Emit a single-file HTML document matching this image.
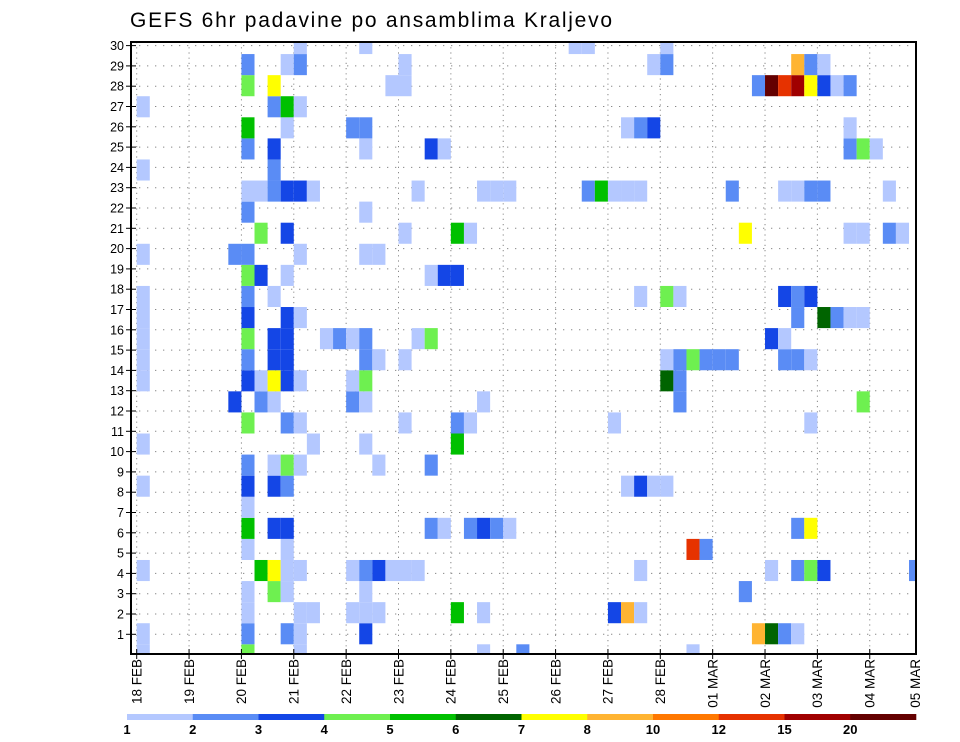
<!DOCTYPE html>
<html><head><meta charset="utf-8"><title>GEFS 6hr padavine po ansamblima Kraljevo</title>
<style>
html,body{margin:0;padding:0;background:#fff;}
svg{display:block;font-family:"Liberation Sans",sans-serif;}
</style></head>
<body>
<svg id="chart" width="960" height="742" viewBox="0 0 960 742" xmlns="http://www.w3.org/2000/svg">
<text x="130" y="27" font-size="21" textLength="482" fill="#000">GEFS 6hr padavine po ansamblima Kraljevo</text>
<g id="grid"></g>
<g id="cells"></g>
<g id="axes"></g>
<g id="legend"></g>
</svg>
<script>
// ---- data ----
const dayLabels = ["18 FEB","19 FEB","20 FEB","21 FEB","22 FEB","23 FEB","24 FEB","25 FEB","26 FEB","27 FEB","28 FEB","01 MAR","02 MAR","03 MAR","04 MAR","05 MAR"];
const memberLabels = [1,2,3,4,5,6,7,8,9,10,11,12,13,14,15,16,17,18,19,20,21,22,23,24,25,26,27,28,29,30];
const levelKeys = ["a","b","c","d","e","f","g","h","i","j","k","l"];
const levelColors = ["#b4c8ff","#5a8cf5","#1446e6","#6ef050","#00c000","#006400","#ffff00","#ffb432","#ff7800","#e63200","#a00000","#640000"];
const legendLabels = ["1","2","3","4","5","6","7","8","10","12","15","20",""];
// each row: "step+level" (6-hour step index from 18 FEB 00, level key)
const precipRows = [
"0a 8d 12a 26a 29b 42a",
"0a 8b 11b 12a 17c 47h 48f 49b 50a",
"8a 12a 13a 16a 17a 18a 24e 26a 36c 37h 38a",
"8a 10d 11a 17a 46b",
"0a 9e 10g 11a 12a 16a 17b 18c 19a 20a 21a 38a 48a 50b 51d 52c 59b",
"8a 11a 42j 43b",
"8e 10c 11c 22b 23a 25b 26c 27b 28a 50b 51g",
"8a",
"0a 8c 10c 11b 37a 38c 39a 40a",
"8b 10a 11d 12a 18a 22b",
"0a 13a 17a 24e",
"8d 11b 12a 20a 24b 25a 36a 51a",
"7c 9b 10a 16b 17a 26a 41b 55d",
"0a 8c 9a 10g 11c 12a 16a 17d 40f 41b",
"0a 8b 10c 11c 17b 18a 20a 40a 41b 42d 43b 44b 45b 49b 50b 51a",
"0a 8d 10c 11c 14a 15b 16a 17b 21a 22d 48c 49a",
"0a 8c 11c 12a 50b 52f 53b 54a 55a",
"0a 8b 10a 38a 40d 41a 49c 50b 51c",
"8d 9c 11a 22a 23c 24c",
"0a 7b 8b 12a 17a 18a",
"9d 11c 20a 24e 25a 46g 54a 55a 57b 58a",
"8b 17a",
"8a 9a 10b 11c 12c 13a 21a 26a 27a 28a 34b 35e 36a 37a 38a 45b 49a 50a 51b 52b 57a",
"0a 10b",
"8b 10c 17a 22c 23a 54b 55d 56a",
"8e 11a 16b 17b 37a 38b 39c 54a",
"0a 10b 11e 12a",
"8d 10g 19a 20a 47b 48l 49j 50k 51g 52c 53a 54b",
"8b 11a 12b 20a 39a 40b 50h 51b 52a",
"12a 17a 33a 34a 40a"
];

// ---- geometry ----
const NS="http://www.w3.org/2000/svg";
const PL=131, PT=42, PR=916, PB=654;
const DAY=52.36, STEP=DAY/4, X0=136.7;
const ROWH=21.08, ROW0=644.3;
function xStep(k){return X0+STEP*k;}
function xDay(d){return X0+DAY*d;}
function yRowTop(j){return ROW0-ROWH*j;}
function yLabel(n){return 654.6-20.3*n;}
function mk(tag,attrs,parent){const e=document.createElementNS(NS,tag);for(const a in attrs)e.setAttribute(a,attrs[a]);parent.appendChild(e);return e;}

const grid=document.getElementById('grid');
memberLabels.forEach(n=>{
  const l=mk('line',{x1:PL,x2:PR,y1:yLabel(n),y2:yLabel(n),stroke:'#888','stroke-width':1,'stroke-dasharray':'1.3,6.7'},grid);
  
  
});
dayLabels.forEach((s,d)=>{
  const x=xDay(d); if(x>PR)return;
  const l=mk('line',{x1:x,x2:x,y1:PT,y2:PB,stroke:'#888','stroke-width':1,'stroke-dasharray':'1.2,4'},grid);
  
  
});

const cells=document.getElementById('cells');
precipRows.forEach((row,j)=>{
  row.split(' ').forEach(tok=>{
    const k=parseInt(tok,10), lev=levelKeys.indexOf(tok.replace(/[0-9]/g,''));
    let x1=xStep(k), x2=x1+STEP, y1=yRowTop(j), y2=y1+ROWH;
    x1=Math.max(x1,PL); x2=Math.min(x2,PR); y1=Math.max(y1,PT); y2=Math.min(y2,PB);
    if(x2<=x1||y2<=y1)return;
    const r=mk('rect',{x:x1,y:y1,width:x2-x1,height:y2-y1,fill:levelColors[lev]},cells);
    
    
  });
});

const axes=document.getElementById('axes');
const frame=mk('rect',{x:PL,y:PT,width:PR-PL,height:PB-PT,fill:'none',stroke:'#000','stroke-width':2},axes);


memberLabels.forEach(n=>{
  const y=yLabel(n);
  const t=mk('line',{x1:PL-5,x2:PL+5,y1:y,y2:y,stroke:'#000','stroke-width':1},axes);
  
  
  const tx=mk('text',{x:PL-7,y:y+4.5,'font-size':12.5,'text-anchor':'end',fill:'#000'},axes);
  tx.textContent=n;
  
  
});
dayLabels.forEach((s,d)=>{
  let x=xDay(d);
  if(x<=PR){
    const t=mk('line',{x1:x,x2:x,y1:PB-5,y2:PB+5,stroke:'#000','stroke-width':1},axes);
    
    
  }
  x=Math.min(x,915);
  const tx=mk('text',{x:0,y:0,'font-size':13.5,'text-anchor':'end',fill:'#000',transform:'translate('+(x+4.8)+',659) rotate(-90)'},axes);
  tx.textContent=s;
  
  
});

const legend=document.getElementById('legend');
const LX0=127, LX1=916, LW=(LX1-LX0)/levelColors.length;
levelColors.forEach((c,i)=>{
  const r=mk('rect',{x:LX0+LW*i,y:714,width:LW+0.3,height:6,fill:c},legend);
  
  
});
legendLabels.forEach((s,i)=>{
  if(!s)return;
  const t=mk('text',{x:LX0+LW*i,y:734,'font-size':13,'font-weight':'bold','text-anchor':'middle',fill:'#000'},legend);
  t.textContent=s;
  
  
});
</script>
</body></html>
